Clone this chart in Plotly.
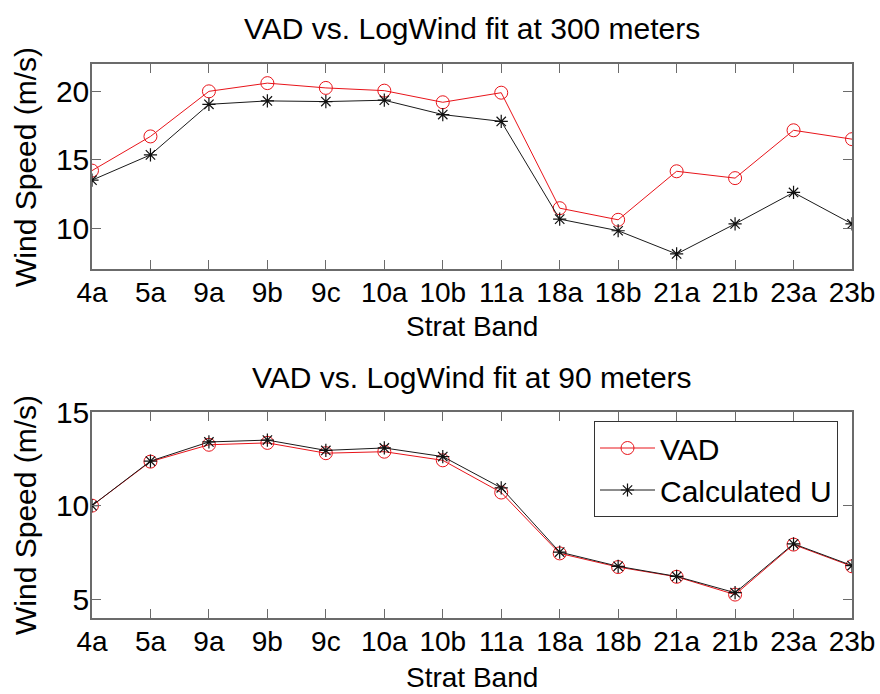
import plotly.graph_objects as go

bands = ["4a", "5a", "9a", "9b", "9c", "10a", "10b", "11a", "18a", "18b", "21a", "21b", "23a", "23b"]

vad_300 = [14.2, 16.7, 20.0, 20.6, 20.25, 20.05, 19.2, 19.9, 11.45, 10.6, 14.15, 13.65, 17.15, 16.5]
calc_300 = [13.5, 15.35, 19.05, 19.3, 19.25, 19.35, 18.3, 17.8, 10.65, 9.8, 8.1, 10.3, 12.6, 10.3]

vad_90 = [10.0, 12.35, 13.25, 13.35, 12.8, 12.88, 12.42, 10.7, 7.45, 6.72, 6.2, 5.25, 7.92, 6.76]
calc_90 = [10.0, 12.38, 13.4, 13.5, 12.95, 13.08, 12.62, 10.95, 7.52, 6.76, 6.22, 5.35, 7.96, 6.8]

FONT = "Liberation Sans, Arial, Helvetica, sans-serif"
W, H = 880, 694

fig = go.Figure()

def add_pair(vad, calc, xa, ya, show):
    fig.add_trace(go.Scatter(x=bands, y=vad, mode="lines+markers", name="VAD",
                             line=dict(color="#e8141a", width=1),
                             marker=dict(symbol="circle-open", size=13, color="#e8141a", line=dict(width=1)),
                             xaxis=xa, yaxis=ya, showlegend=show))
    fig.add_trace(go.Scatter(x=bands, y=calc, mode="lines+markers", name="Calculated U",
                             line=dict(color="#1a1a1a", width=1),
                             marker=dict(symbol="asterisk-open", size=11, color="#111111", line=dict(width=1.2)),
                             xaxis=xa, yaxis=ya, showlegend=show))

add_pair(vad_300, calc_300, "x", "y", False)
add_pair(vad_90, calc_90, "x2", "y2", True)

axcommon = dict(showline=True, linecolor="#6b6b6b", linewidth=1.5, mirror="ticks",
                ticks="inside", ticklen=9, tickcolor="#6b6b6b", tickwidth=1,
                showgrid=False, zeroline=False, automargin=False)

def px_x(p):
    return p / W

def px_y(p):
    return 1 - p / H

xfont = dict(family=FONT, size=28, color="black")
yfont = dict(family=FONT, size=30, color="black")

fig.update_layout(
    width=W, height=H, margin=dict(l=0, r=0, t=0, b=0, autoexpand=False),
    paper_bgcolor="white", plot_bgcolor="white",
    xaxis=dict(domain=[px_x(92), px_x(852)], anchor="y", type="category", range=[0, 13],
               tickfont=xfont, ticklabelstandoff=-2, **axcommon),
    yaxis=dict(domain=[px_y(269), px_y(64)], anchor="x", range=[7, 22], tickvals=[10, 15, 20],
               tickfont=yfont, ticklabelstandoff=-5, **axcommon),
    xaxis2=dict(domain=[px_x(92), px_x(852)], anchor="y2", type="category", range=[0, 13],
                tickfont=xfont, ticklabelstandoff=-2, **axcommon),
    yaxis2=dict(domain=[px_y(618), px_y(412)], anchor="x2", range=[4, 15], tickvals=[5, 10, 15],
                tickfont=yfont, ticklabelstandoff=-5, **axcommon),
    legend=dict(x=px_x(594), y=px_y(421), xanchor="left", yanchor="top",
                bgcolor="white", bordercolor="#333333", borderwidth=1, itemwidth=55,
                font=dict(family=FONT, size=30, color="black"), tracegroupgap=0),
    showlegend=True,
)

cx = (92 + 852) / 2 / W
annots = [
    dict(text="VAD vs. LogWind fit at 300 meters", x=cx, y=px_y(28), size=30, angle=0),
    dict(text="Strat Band", x=cx, y=px_y(327), size=28, angle=0),
    dict(text="VAD vs. LogWind fit at 90 meters", x=cx, y=px_y(377), size=30, angle=0),
    dict(text="Strat Band", x=cx, y=px_y(677), size=28, angle=0),
    dict(text="Wind Speed (m/s)", x=px_x(25), y=px_y(167), size=30, angle=-90),
    dict(text="Wind Speed (m/s)", x=px_x(25), y=px_y(515), size=30, angle=-90),
]
for a in annots:
    fig.add_annotation(text=a["text"], x=a["x"], y=a["y"], xref="paper", yref="paper",
                       xanchor="center", yanchor="middle", showarrow=False, textangle=a["angle"],
                       font=dict(family=FONT, size=a["size"], color="black"))

fig.write_html("out.html")
